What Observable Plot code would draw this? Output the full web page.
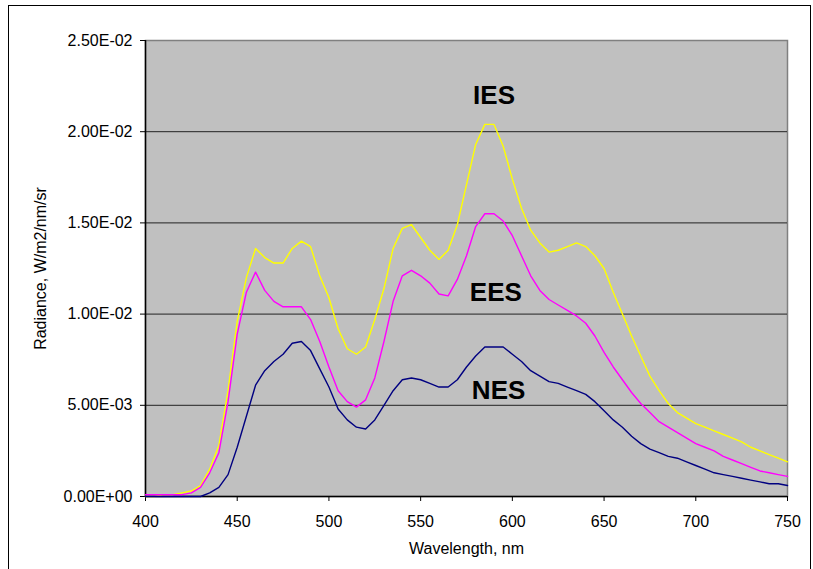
<!DOCTYPE html>
<html>
<head>
<meta charset="utf-8">
<script src="https://cdn.jsdelivr.net/npm/d3@7"></script>
<script src="https://cdn.jsdelivr.net/npm/@observablehq/plot@0.6"></script>
<style>
  html, body { margin: 0; padding: 0; background: white; }
  #wrap { position: relative; width: 813px; height: 569px; overflow: hidden; }
  #border { position: absolute; left: 8px; top: 5px; width: 803px; height: 600px; border: 1px solid #000; pointer-events: none; box-sizing: border-box; }
</style>
</head>
<body>
<div id="wrap"><div id="chart"></div><div id="border"></div></div>
<script>
// Wavelength grid (nm)
const wavelengths = d3.range(400, 751, 5);

// Series values (W/m2/nm/sr)
const ies = [
  0.0000, 0.0000, 0.0001, 0.0001, 0.0002, 0.0003, 0.0006, 0.0015, 0.0028, 0.0058,
  0.0096, 0.0120, 0.0136, 0.0131, 0.0128, 0.0128, 0.0136, 0.0140, 0.0137, 0.0121,
  0.0109, 0.0092, 0.0081, 0.0078, 0.0082, 0.0097, 0.0114, 0.0136, 0.0147, 0.0149,
  0.0142, 0.0135, 0.0130, 0.0135, 0.0149, 0.0171, 0.0193, 0.0204, 0.0204, 0.0192,
  0.0174, 0.0158, 0.0146, 0.0139, 0.0134, 0.0135, 0.0137, 0.0139, 0.0137, 0.0132,
  0.0125, 0.0112, 0.0100, 0.0088, 0.0077, 0.0066, 0.0058, 0.0051, 0.0046, 0.0043,
  0.0040, 0.0038, 0.0036, 0.0034, 0.0032, 0.0030, 0.0027, 0.0025, 0.0023, 0.0021,
  0.0019
];
const ees = [
  0.0001, 0.0001, 0.0001, 0.0001, 0.0001, 0.0002, 0.0005, 0.0013, 0.0024, 0.0052,
  0.0089, 0.0112, 0.0123, 0.0113, 0.0107, 0.0104, 0.0104, 0.0104, 0.0097, 0.0085,
  0.0071, 0.0058, 0.0052, 0.0049, 0.0053, 0.0065, 0.0085, 0.0107, 0.0121, 0.0124,
  0.0121, 0.0117, 0.0111, 0.0110, 0.0119, 0.0132, 0.0148, 0.0155, 0.0155, 0.0151,
  0.0143, 0.0132, 0.0121, 0.0113, 0.0108, 0.0105, 0.0102, 0.0099, 0.0095, 0.0088,
  0.0079, 0.0071, 0.0064, 0.0057, 0.0051, 0.0046, 0.0041, 0.0038, 0.0035, 0.0032,
  0.0029, 0.0027, 0.0025, 0.0022, 0.0020, 0.0018, 0.0016, 0.0014, 0.0013, 0.0012,
  0.0011
];
const nes = [
  0.0000, 0.0000, 0.0000, 0.0000, 0.0000, 0.0000, 0.0000, 0.0002, 0.0005, 0.0012,
  0.0027, 0.0044, 0.0061, 0.0069, 0.0074, 0.0078, 0.0084, 0.0085, 0.0080, 0.0070,
  0.0060, 0.0048, 0.0042, 0.0038, 0.0037, 0.0042, 0.0050, 0.0058, 0.0064, 0.0065,
  0.0064, 0.0062, 0.0060, 0.0060, 0.0064, 0.0071, 0.0077, 0.0082, 0.0082, 0.0082,
  0.0078, 0.0074, 0.0069, 0.0066, 0.0063, 0.0062, 0.0060, 0.0058, 0.0056, 0.0052,
  0.0047, 0.0042, 0.0038, 0.0033, 0.0029, 0.0026, 0.0024, 0.0022, 0.0021, 0.0019,
  0.0017, 0.0015, 0.0013, 0.0012, 0.0011, 0.0010, 0.0009, 0.0008, 0.0007, 0.0007,
  0.0006
];

const seriesNames = ["IES", "EES", "NES"];
const seriesColors = ["#ffff00", "#ff00ff", "#000080"];

// Annotation labels (data coordinates)
const labelNames = ["IES", "EES", "NES"];
const labelX = [590, 591, 592.5];
const labelY = [0.0220, 0.0112, 0.0058];

const xTicks = [400, 450, 500, 550, 600, 650, 700, 750];
const yTicks = [0, 0.005, 0.010, 0.015, 0.020, 0.025];

function sci(d) {
  if (d === 0) return "0.00E+00";
  const e = Math.floor(Math.log10(Math.abs(d)) + 1e-9);
  const m = d / Math.pow(10, e);
  const sign = e < 0 ? "-" : "+";
  return m.toFixed(2) + "E" + sign + String(Math.abs(e)).padStart(2, "0");
}

const rows = [];
[ies, ees, nes].forEach((vals, i) => {
  vals.forEach((v, j) => rows.push({series: seriesNames[i], nm: wavelengths[j], value: v}));
});
const labels = labelNames.map((t, i) => ({t, x: labelX[i], y: labelY[i]}));

const chart = Plot.plot({
  width: 813,
  height: 569,
  marginLeft: 145,
  marginRight: 26,
  marginTop: 40,
  marginBottom: 73,
  style: {fontFamily: "'Liberation Sans', Arial, sans-serif", fontSize: "16px", background: "white", color: "black", overflow: "visible"},
  x: {domain: [400, 750]},
  y: {domain: [0, 0.025]},
  color: {domain: seriesNames, range: seriesColors},
  marks: [
    Plot.frame({fill: "#c0c0c0", stroke: "#808080", strokeWidth: 1.5}),
    Plot.gridY(yTicks.filter(d => d > 0 && d < 0.025), {stroke: "#222", strokeOpacity: 1}),
    Plot.axisX({ticks: xTicks, tickSize: 5, tickPadding: 14, tickFormat: d => String(d),
      label: "Wavelength, nm", labelAnchor: "center", labelArrow: "none", labelOffset: 57, fontSize: 16}),
    Plot.axisY({ticks: yTicks, tickSize: 5, tickPadding: 8, tickFormat: sci,
      label: "Radiance, W/m2/nm/sr", labelAnchor: "center", labelArrow: "none", labelOffset: 111, fontSize: 16}),
    Plot.ruleX([400], {stroke: "#000", strokeWidth: 1.5}),
    Plot.ruleY([0], {stroke: "#000", strokeWidth: 1.5}),
    Plot.line(rows, {x: "nm", y: "value", z: "series", stroke: "series", strokeWidth: 1.4, curve: "linear"}),
    Plot.text(labels, {x: "x", y: "y", text: "t", fontSize: 26, fontWeight: "bold", fill: "#000"})
  ]
});
document.getElementById("chart").appendChild(chart);
</script>
</body>
</html>
